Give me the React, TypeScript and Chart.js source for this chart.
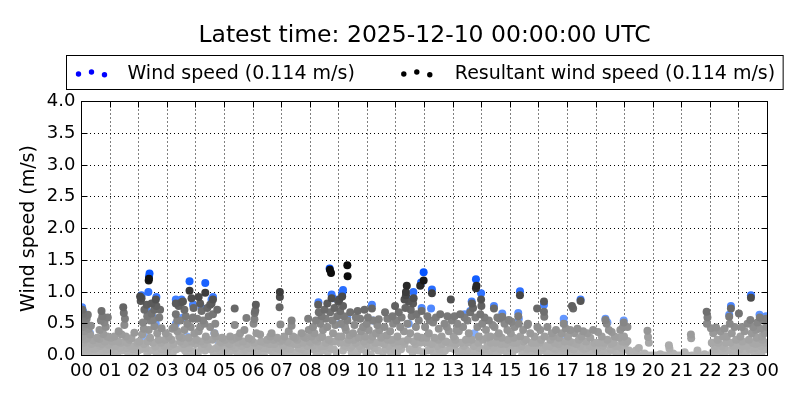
import React, { useEffect, useRef } from "react";
import { Chart, registerables } from "chart.js";

Chart.register(...registerables);

const FONT = "'DejaVu Sans', sans-serif";
const titleText = "Latest time: 2025-12-10 00:00:00 UTC";
const windLabel = "Wind speed (0.114 m/s)";
const resultantLabel = "Resultant wind speed (0.114 m/s)";
const yAxisTitle = "Wind speed (m/s)";
const hourTickLabels = ["00","01","02","03","04","05","06","07","08","09","10","11","12","13","14","15","16","17","18","19","20","21","22","23","00"];
const speedTickLabels = ["0.0","0.5","1.0","1.5","2.0","2.5","3.0","3.5","4.0"];

// [hour of day, speed m/s]
const resultantPoints: [number, number][] = [
  [0.03,0.72],[0.06,0.66],[0.12,0.62],[0.18,0.58],[0.08,0.55],[0.22,0.64],[0.15,0.5],[0.05,0.45],[0.25,0.42],[0.1,0.38],
  [0.3,0.33],[0.02,0.3],[0.2,0.27],[0.4,0.24],[0.08,0.2],[0.35,0.18],[0.15,0.14],[0.5,0.12],[0.27,0.08],[0.05,0.06],
  [0.6,0.05],[0.42,0.03],[0.7,0.7],[0.73,0.62],[0.68,0.55],[0.8,0.52],[0.85,0.45],[0.63,0.4],[0.76,0.34],[0.9,0.3],
  [0.55,0.28],[0.82,0.22],[0.95,0.17],[0.65,0.15],[0.88,0.1],[0.75,0.07],[0.98,0.03],[0.45,0.1],[0.33,0.47],[0.92,0.6],
  [1.05,0.1],[1.12,0.05],[1.18,0.15],[1.25,0.02],[1.3,0.38],[1.28,0.22],[1.35,0.12],[1.42,0.08],[1.46,0.76],[1.48,0.67],
  [1.52,0.58],[1.5,0.48],[1.55,0.3],[1.6,0.2],[1.62,0.05],[1.7,0.15],[1.75,0.27],[1.8,0.1],[1.85,0.36],[1.9,0.04],
  [1.95,0.2],[1.02,0.28],[1.4,0.33],
  [2.05,0.93],[2.07,0.86],[2.1,0.9],[2.35,1.18],[2.36,1.21],[2.6,0.88],[2.62,0.78],[2.2,0.72],[2.45,0.66],[2.3,0.62],
  [2.5,0.56],[2.72,0.6],[2.15,0.52],[2.55,0.46],[2.8,0.43],[2.35,0.4],[2.12,0.33],[2.65,0.35],[2.4,0.28],[2.02,0.22],
  [2.7,0.25],[2.5,0.2],[2.9,0.15],[2.25,0.12],[2.6,0.06],[2.88,0.03],[2.45,0.82],[2.55,0.72],[2.28,0.8],[2.18,0.42],
  [2.95,0.35],[2.8,0.1],[2.3,0.04],[2.75,0.72],[2.4,0.55],
  [3.05,0.3],[3.1,0.15],[3.15,0.25],[3.2,0.05],[3.25,0.45],[3.3,0.82],[3.3,0.65],[3.35,0.55],[3.4,0.78],[3.42,0.3],
  [3.45,0.55],[3.5,0.84],[3.55,0.85],[3.5,0.12],[3.6,0.72],[3.6,0.4],[3.65,0.62],[3.7,0.5],[3.7,0.2],[3.78,1.02],
  [3.8,0.02],[3.85,0.9],[3.88,0.58],[3.9,0.6],[3.95,0.35],[3.92,0.75],[3.75,0.28],[3.35,0.38],[3.18,0.42],[3.62,0.08],
  [3.98,0.18],[3.45,0.22],[3.82,0.45],
  [4.05,0.58],[4.1,0.92],[4.1,0.38],[4.15,0.82],[4.2,0.7],[4.2,0.12],[4.25,0.55],[4.3,0.5],[4.33,0.99],[4.35,0.3],
  [4.4,0.75],[4.4,0.25],[4.45,0.62],[4.5,0.8],[4.5,0.45],[4.55,0.82],[4.6,0.88],[4.6,0.65],[4.62,0.05],[4.65,0.35],
  [4.7,0.3],[4.75,0.72],[4.8,0.15],[4.85,0.22],[4.9,0.2],[4.95,0.02],[4.02,0.25],[4.28,0.18],[4.68,0.5],[4.52,0.1],
  [4.15,0.45],[4.85,0.08],
  [5.05,0.1],[5.1,0.2],[5.15,0.03],[5.25,0.15],[5.3,0.08],[5.36,0.74],[5.36,0.48],[5.4,0.28],[5.45,0.05],[5.5,0.3],
  [5.55,0.35],[5.6,0.15],[5.65,0.22],[5.7,0.4],[5.77,0.59],[5.8,0.05],[5.85,0.27],[5.9,0.12],[5.95,0.25],[5.2,0.3],
  [5.72,0.1],
  [6.02,0.5],[6.06,0.67],[6.1,0.8],[6.08,0.71],[6.05,0.57],[6.12,0.35],[6.2,0.15],[6.25,0.33],[6.3,0.05],[6.4,0.2],
  [6.5,0.25],[6.55,0.1],[6.6,0.3],[6.7,0.05],[6.75,0.18],[6.85,0.28],[6.9,0.1],[6.15,0.02],[6.35,0.12],[6.65,0.35],
  [6.95,0.22],
  [6.94,1.0],[6.94,0.92],[6.93,0.76],[6.96,0.49],[7.05,0.15],[7.1,0.3],[7.15,0.05],[7.2,0.22],[7.3,0.1],[7.35,0.55],
  [7.35,0.47],[7.4,0.3],[7.45,0.18],[7.5,0.05],[7.55,0.25],[7.6,0.12],[7.7,0.35],[7.75,0.2],[7.8,0.08],[7.85,0.28],
  [7.93,0.58],[7.95,0.4],[7.9,0.15],[7.65,0.02],[7.25,0.38],
  [8.02,0.2],[8.05,0.3],[8.1,0.45],[8.12,0.1],[8.15,0.35],[8.2,0.55],[8.25,0.22],[8.28,0.8],[8.3,0.68],[8.32,0.05],
  [8.35,0.5],[8.4,0.62],[8.42,0.3],[8.45,0.4],[8.5,0.72],[8.5,0.15],[8.55,0.58],[8.6,0.82],[8.6,0.45],[8.65,0.25],
  [8.69,1.35],[8.73,1.3],[8.7,0.68],[8.75,0.9],[8.78,0.55],[8.8,0.35],[8.82,0.1],[8.85,0.75],[8.88,0.48],[8.9,0.22],
  [8.95,0.62],[8.98,0.85],[8.22,0.02],[8.38,0.15],[8.62,0.05],
  [9.02,0.88],[9.05,0.7],[9.08,0.5],[9.1,0.3],[9.12,0.93],[9.15,0.78],[9.18,0.62],[9.2,0.15],[9.25,0.4],[9.3,1.42],
  [9.31,1.25],[9.3,0.55],[9.35,0.25],[9.4,0.68],[9.45,0.05],[9.5,0.35],[9.55,0.48],[9.6,0.2],[9.66,0.7],[9.7,0.28],
  [9.75,0.58],[9.8,0.1],[9.85,0.45],[9.9,0.72],[9.92,0.3],[9.95,0.18],[9.4,0.12],[9.6,0.6],[9.22,0.45],[9.78,0.38],
  [9.98,0.5],
  [10.02,0.6],[10.05,0.4],[10.1,0.25],[10.16,0.74],[10.2,0.55],[10.25,0.12],[10.3,0.35],[10.35,0.48],[10.4,0.57],[10.45,0.2],
  [10.5,0.3],[10.55,0.05],[10.6,0.45],[10.62,0.68],[10.7,0.58],[10.75,0.15],[10.8,0.38],[10.85,0.25],[10.9,0.5],[10.97,0.78],
  [10.95,0.1],[10.12,0.02],[10.68,0.32],[10.42,0.4],[10.88,0.62],
  [11.02,0.55],[11.05,0.3],[11.1,0.68],[11.12,0.15],[11.15,0.45],[11.2,0.6],[11.25,0.22],[11.3,0.88],[11.33,0.75],[11.35,1.0],
  [11.38,1.1],[11.35,0.95],[11.4,0.5],[11.45,0.85],[11.5,0.35],[11.52,0.72],[11.55,0.62],[11.6,0.82],[11.62,0.9],[11.65,0.1],
  [11.7,0.45],[11.75,0.3],[11.8,0.55],[11.85,0.2],[11.9,0.7],[11.85,1.1],[11.97,1.18],[11.95,0.05],[11.58,0.05],[11.28,0.38],
  [11.72,0.65],
  [12.02,0.45],[12.05,0.2],[12.1,0.62],[12.15,0.35],[12.2,0.1],[12.26,0.98],[12.3,0.52],[12.35,0.28],[12.4,0.6],[12.45,0.15],
  [12.5,0.42],[12.55,0.65],[12.6,0.3],[12.65,0.05],[12.7,0.5],[12.75,0.22],[12.8,0.62],[12.85,0.38],[12.92,0.88],[12.9,0.12],
  [12.95,0.55],[12.18,0.55],[12.42,0.02],[12.78,0.45],
  [13.02,0.3],[13.05,0.62],[13.1,0.18],[13.15,0.5],[13.2,0.38],[13.25,0.65],[13.3,0.08],[13.35,0.45],[13.4,0.6],[13.45,0.25],
  [13.5,0.55],[13.55,0.35],[13.6,0.68],[13.66,0.82],[13.7,0.75],[13.72,0.15],[13.8,1.06],[13.82,1.1],[13.78,0.6],[13.85,0.45],
  [13.9,0.3],[13.95,0.65],[13.98,0.88],[13.99,0.78],[13.6,0.05],[13.12,0.4],[13.92,0.12],[13.42,0.02],
  [14.02,0.5],[14.05,0.25],[14.1,0.6],[14.15,0.4],[14.2,0.15],[14.25,0.55],[14.3,0.3],[14.35,0.05],[14.43,0.74],[14.45,0.45],
  [14.5,0.2],[14.55,0.6],[14.6,0.35],[14.65,0.1],[14.72,0.61],[14.7,0.28],[14.8,0.5],[14.85,0.18],[14.9,0.4],[14.95,0.56],
  [14.62,0.58],[14.38,0.48],[14.88,0.05],[14.12,0.02],
  [15.02,0.35],[15.05,0.53],[15.1,0.2],[15.15,0.45],[15.2,0.1],[15.28,0.62],[15.3,0.5],[15.34,0.95],[15.35,0.3],[15.4,0.15],
  [15.45,0.4],[15.5,0.05],[15.55,0.25],[15.6,0.48],[15.65,0.12],[15.7,0.35],[15.75,0.2],[15.8,0.02],[15.85,0.3],[15.9,0.1],
  [15.94,0.74],[15.95,0.45],[15.62,0.5],
  [16.02,0.2],[16.05,0.4],[16.1,0.08],[16.18,0.85],[16.18,0.69],[16.19,0.61],[16.2,0.3],[16.25,0.15],[16.3,0.45],[16.35,0.05],
  [16.4,0.25],[16.45,0.35],[16.5,0.12],[16.55,0.2],[16.6,0.4],[16.65,0.05],[16.7,0.28],[16.75,0.15],[16.8,0.35],[16.87,0.5],
  [16.85,0.08],[16.9,0.22],[16.95,0.42],[16.5,0.3],
  [17.02,0.3],[17.05,0.12],[17.1,0.4],[17.16,0.78],[17.2,0.74],[17.2,0.2],[17.25,0.35],[17.3,0.05],[17.35,0.42],[17.4,0.25],
  [17.46,0.86],[17.45,0.15],[17.5,0.3],[17.55,0.38],[17.6,0.1],[17.65,0.22],[17.7,0.35],[17.75,0.05],[17.8,0.28],[17.85,0.15],
  [17.9,0.4],[17.95,0.2],
  [18.02,0.1],[18.07,0.37],[18.1,0.2],[18.15,0.05],[18.2,0.3],[18.25,0.15],[18.33,0.56],[18.37,0.5],[18.4,0.25],[18.45,0.4],
  [18.5,0.1],[18.55,0.37],[18.6,0.2],[18.65,0.3],[18.7,0.05],[18.75,0.15],[18.8,0.28],[18.85,0.4],[18.9,0.12],[18.97,0.52],
  [18.95,0.45],[18.98,0.3],[18.3,0.02],
  [19.05,0.2],[19.1,0.45],[19.1,0.23],[19.15,0.08],[19.2,0],[19.3,0],[19.35,0.05],[19.45,0],[19.5,0.12],[19.6,0],
  [19.7,0.03],[19.8,0.39],[19.82,0.29],[19.85,0.2],[19.83,0],[19.95,0],
  [20.05,0],[20.15,0],[20.25,0.02],[20.35,0],[20.45,0],[20.55,0.16],[20.57,0.11],[20.6,0],[20.7,0.03],[20.8,0],
  [20.9,0],
  [21.0,0],[21.1,0.05],[21.2,0],[21.32,0.33],[21.33,0.27],[21.35,0],[21.45,0],[21.55,0.08],[21.6,0],[21.7,0],
  [21.8,0.02],[21.87,0.69],[21.9,0.6],[21.88,0.5],[21.95,0],
  [22.02,0.43],[22.05,0.2],[22.1,0.35],[22.15,0.1],[22.2,0.44],[22.25,0.25],[22.3,0.05],[22.35,0.38],[22.4,0.15],[22.45,0.3],
  [22.5,0.42],[22.55,0.2],[22.6,0.08],[22.66,0.61],[22.68,0.5],[22.72,0.74],[22.75,0.35],[22.8,0.15],[22.85,0.45],[22.9,0.25],
  [22.95,0.05],[23.0,0.66],[22.12,0],[22.5,0],[22.78,0],
  [23.05,0.3],[23.1,0.45],[23.15,0.15],[23.2,0.38],[23.25,0.05],[23.3,0.5],[23.35,0.25],[23.42,0.91],[23.4,0.56],[23.45,0.35],
  [23.5,0.45],[23.55,0.12],[23.6,0.4],[23.62,0.28],[23.65,0.52],[23.7,0.2],[23.73,0.6],[23.75,0.42],[23.8,0.3],[23.85,0.55],
  [23.88,0.1],[23.9,0.35],[23.95,0.58],[23.97,0.45],[23.92,0.2],[23.25,0],[23.6,0.02],[23.8,0.05]
];

// calm, low readings forming the light band near zero
const resultantLowPoints: [number, number][] = [
  [0.12,0.25],[0.38,0.12],[0.55,0.2],[0.62,0.26],[0.72,0.18],[0.86,0.05],[0.28,0.02],[0.18,0.1],
  [1.08,0.22],[1.15,0.3],[1.22,0.08],[1.38,0.2],[1.58,0.12],[1.68,0.25],[1.78,0.02],[1.88,0.14],[1.98,0.08],
  [2.08,0.1],[2.18,0.18],[2.32,0.22],[2.42,0.08],[2.58,0.14],[2.68,0.02],[2.78,0.2],[2.92,0.25],[2.98,0.06],
  [3.02,0.1],[3.12,0.02],[3.22,0.18],[3.32,0.1],[3.52,0.28],[3.58,0.18],[3.68,0.05],[3.76,0.12],[3.86,0.22],[3.94,0.06],
  [4.08,0.05],[4.18,0.22],[4.32,0.08],[4.42,0.14],[4.58,0.25],[4.72,0.12],[4.82,0.04],[4.92,0.28],[4.98,0.12],
  [5.02,0.25],[5.18,0.18],[5.28,0.25],[5.38,0.12],[5.48,0.2],[5.58,0.02],[5.68,0.08],[5.78,0.18],[5.88,0.02],[5.98,0.12],
  [6.04,0.2],[6.18,0.08],[6.28,0.22],[6.38,0.02],[6.45,0.12],[6.58,0.18],[6.62,0.08],[6.72,0.25],[6.8,0.12],[6.92,0.02],
  [7.02,0.25],[7.08,0.08],[7.18,0.12],[7.28,0.2],[7.38,0.02],[7.48,0.28],[7.58,0.18],[7.68,0.1],[7.78,0.3],[7.88,0.05],[7.98,0.22],
  [8.08,0.15],[8.18,0.25],[8.28,0.12],[8.35,0.28],[8.45,0.08],[8.55,0.2],[8.68,0.12],[8.75,0.22],[8.92,0.05],[8.98,0.3],
  [9.05,0.2],[9.15,0.08],[9.28,0.2],[9.38,0.32],[9.48,0.15],[9.52,0.25],[9.65,0.05],[9.72,0.15],[9.88,0.22],[9.96,0.05],
  [10.08,0.15],[10.18,0.3],[10.28,0.2],[10.38,0.08],[10.48,0.28],[10.58,0.18],[10.65,0.1],[10.72,0.25],[10.82,0.05],[10.92,0.2],
  [11.05,0.05],[11.08,0.22],[11.18,0.1],[11.3,0.18],[11.42,0.25],[11.48,0.1],[11.62,0.22],[11.68,0.18],[11.78,0.08],[11.9,0.28],
  [12.08,0.28],[12.12,0.08],[12.25,0.18],[12.32,0.05],[12.48,0.25],[12.52,0.1],[12.62,0.18],[12.72,0.08],[12.82,0.2],[12.98,0.2],
  [13.05,0.1],[13.08,0.25],[13.18,0.05],[13.28,0.2],[13.38,0.15],[13.48,0.08],[13.52,0.2],[13.65,0.25],[13.75,0.05],[13.88,0.2],[13.97,0.05],
  [14.08,0.1],[14.18,0.28],[14.28,0.08],[14.32,0.2],[14.42,0.12],[14.52,0.3],[14.58,0.05],[14.68,0.18],[14.78,0.08],[14.92,0.25],[14.98,0.12],
  [15.08,0.05],[15.12,0.28],[15.22,0.2],[15.32,0.12],[15.42,0.02],[15.48,0.22],[15.58,0.1],[15.68,0.05],[15.78,0.12],[15.88,0.2],[15.98,0.05],
  [16.08,0.25],[16.15,0.12],[16.28,0.05],[16.38,0.15],[16.48,0.05],[16.58,0.1],[16.68,0.18],[16.72,0.02],[16.82,0.12],[16.92,0.05],[16.98,0.15],
  [17.08,0.22],[17.12,0.02],[17.22,0.1],[17.32,0.18],[17.42,0.05],[17.52,0.12],[17.62,0.02],[17.68,0.12],[17.78,0.15],[17.88,0.05],[17.98,0.1],
  [18.05,0.12],[18.12,0.02],[18.22,0.08],[18.28,0.2],[18.42,0.05],[18.52,0.18],[18.58,0.08],[18.68,0.15],[18.78,0.02],[18.88,0.05],[18.92,0.22],
  [19.02,0.1],[19.25,0.02],[19.4,0.08],
  [22.08,0.05],[22.18,0.15],[22.28,0.2],[22.38,0.08],[22.48,0.12],[22.58,0.3],[22.7,0.2],[22.82,0.05],[22.92,0.15],
  [23.02,0.1],[23.12,0.22],[23.18,0.05],[23.28,0.15],[23.38,0.1],[23.48,0.2],[23.52,0.05],[23.58,0.18],[23.68,0.08],[23.78,0.15],[23.82,0.25],[23.98,0.1]
];

const windPoints: [number, number][] = [
  [0.02,0.76],[0.05,0.7],[0.3,0.35],
  [2.34,1.0],[2.38,1.29],[2.36,1.24],[2.1,0.95],[2.62,0.92],[2.3,0.7],[2.5,0.6],[2.6,0.5],[2.2,0.3],
  [3.3,0.88],[3.5,0.88],[3.78,1.17],[3.9,0.8],[3.55,0.6],[3.3,0.5],[3.7,0.3],
  [4.33,1.14],[4.55,0.88],[4.6,0.92],[4.2,0.75],[4.65,0.35],[4.8,0.2],
  [8.29,0.84],[8.68,1.37],[8.75,0.96],[8.8,0.9],[9.15,1.03],[9.12,0.98],[9.0,0.88],[9.05,0.5],[9.3,0.6],
  [10.16,0.8],[10.2,0.55],
  [11.4,0.9],[11.61,1.0],[11.9,0.75],[11.97,1.31],[11.88,1.15],[12.26,1.04],[12.23,0.74],[11.45,0.5],
  [13.8,1.2],[13.98,0.98],[13.65,0.85],[13.6,0.7],[13.4,0.65],[13.75,0.35],
  [14.43,0.78],[14.72,0.66],
  [15.34,1.01],[15.28,0.67],[15.3,0.58],
  [16.18,0.8],[16.87,0.58],[16.88,0.5],[16.82,0.27],
  [17.46,0.88],
  [18.33,0.58],[18.4,0.52],[18.97,0.55],
  [22.72,0.78],[22.66,0.64],[23.42,0.95],[23.72,0.64],[23.95,0.62]
];

function greyFor(v: number): string {
  const g = Math.round(Math.max(12, Math.min(180, 182 - 60 * v - 62 * v * v)));
  return `rgb(${g},${g},${g})`;
}
function blueFor(v: number): string {
  const t = Math.max(0, Math.min(1, v / 1.35));
  const r = Math.round(175 - 175 * t);
  const g = Math.round(205 - 125 * t);
  const b = 255;
  return `rgb(${r},${g},${b})`;
}

const alignPx = (p: number) => Math.round(p + 0.5) - 0.5;

const decorPlugin = {
  id: "decor",
  afterDraw(chart: any) {
    const { ctx, chartArea } = chart;
    const { left, right, top, bottom } = chartArea;
    const xs = chart.scales.x;
    const ys = chart.scales.y;
    ctx.save();
    ctx.strokeStyle = "#000";
    ctx.lineWidth = 1;
    ctx.setLineDash([]);
    const T = 6;
    ctx.beginPath();
    xs.ticks.forEach((t: any) => {
      const px = alignPx(xs.getPixelForValue(t.value));
      ctx.moveTo(px, bottom); ctx.lineTo(px, bottom - T);
      ctx.moveTo(px, top); ctx.lineTo(px, top + T);
    });
    ys.ticks.forEach((t: any) => {
      const py = alignPx(ys.getPixelForValue(t.value));
      ctx.moveTo(left, py); ctx.lineTo(left + T, py);
      ctx.moveTo(right, py); ctx.lineTo(right - T, py);
    });
    ctx.stroke();
    ctx.strokeRect(alignPx(left), alignPx(top), alignPx(right) - alignPx(left), alignPx(bottom) - alignPx(top));

    const cx = (left + right) / 2;
    ctx.fillStyle = "#000";
    ctx.font = `23.5px ${FONT}`;
    ctx.textAlign = "center";
    ctx.textBaseline = "alphabetic";
    ctx.fillText(titleText, cx, 42);

    ctx.font = `19px ${FONT}`;
    const w1 = ctx.measureText(windLabel).width;
    const w2 = ctx.measureText(resultantLabel).width;
    const total = 61 + w1 + 100 + w2 + 8;
    const bx = Math.round(cx - total / 2) + 0.5;
    const by = 55.5;
    const bh = 34;
    ctx.fillStyle = "#fff";
    ctx.fillRect(bx, by, total, bh);
    ctx.strokeStyle = "#000";
    ctx.strokeRect(bx, by, total, bh);
    const my = by + bh / 2;
    const offs = [1.5, -0.5, 2.2];
    const drawDots = (x0: number, color: string) => {
      ctx.fillStyle = color;
      [0, 13, 26].forEach((dx, i) => {
        ctx.beginPath();
        ctx.arc(x0 + dx, my + offs[i], 2.7, 0, Math.PI * 2);
        ctx.fill();
      });
    };
    drawDots(bx + 12, "#0000ff");
    ctx.fillStyle = "#000";
    ctx.textAlign = "left";
    ctx.fillText(windLabel, bx + 61, 79);
    const x2 = bx + 61 + w1;
    drawDots(x2 + 49, "#000");
    ctx.fillStyle = "#000";
    ctx.fillText(resultantLabel, x2 + 100, 79);
    ctx.restore();
  },
};

export default function App() {
  const ref = useRef<HTMLCanvasElement | null>(null);
  useEffect(() => {
    document.body.style.margin = "0";
    const canvas = ref.current;
    if (!canvas) return;
    const toXY = (pts: [number, number][]) =>
      pts.map(([h, v]) => ({ x: h, y: v })).sort((a, b) => a.y - b.y);
    const chart = new Chart(canvas, {
      type: "scatter",
      data: {
        datasets: [
          {
            label: resultantLabel,
            data: toXY([...resultantLowPoints, ...resultantPoints]),
            order: 0,
            pointRadius: 4,
            pointHoverRadius: 4,
            borderWidth: 0,
            backgroundColor: (c: any) => greyFor(c.raw ? c.raw.y : 0),
            clip: 0,
          },
          {
            label: windLabel,
            data: toXY(windPoints),
            order: 1,
            pointRadius: 4,
            pointHoverRadius: 4,
            borderWidth: 0,
            backgroundColor: (c: any) => blueFor(c.raw ? c.raw.y : 0),
            clip: 0,
          },
        ],
      },
      options: {
        responsive: false,
        animation: false,
        events: [],
        layout: { padding: { top: 101.5, right: 32.5, bottom: 0, left: 0 } },
        plugins: {
          legend: { display: false },
          title: { display: false },
          tooltip: { enabled: false },
        },
        scales: {
          x: {
            type: "linear",
            min: 0,
            max: 24,
            afterFit: (s: any) => { s.height = 44.5; },
            afterBuildTicks: (s: any) => {
              s.ticks = hourTickLabels.map((_, i) => ({ value: i }));
            },
            ticks: {
              autoSkip: false,
              maxRotation: 0,
              padding: 5,
              color: "#000",
              font: { family: FONT, size: 18 },
              callback: (v: any) => hourTickLabels[Math.round(Number(v))] ?? "",
            },
            grid: { color: "#000", lineWidth: 1, drawTicks: false },
            border: { display: false, dash: [1, 3] },
          },
          y: {
            min: 0,
            max: 4,
            afterFit: (s: any) => { s.width = 81.5; },
            afterBuildTicks: (s: any) => {
              s.ticks = speedTickLabels.map((l) => ({ value: parseFloat(l) }));
            },
            ticks: {
              padding: 6,
              color: "#000",
              font: { family: FONT, size: 18 },
              callback: (v: any) => {
                const i = speedTickLabels.findIndex((l) => Math.abs(parseFloat(l) - Number(v)) < 1e-6);
                return i >= 0 ? speedTickLabels[i] : "";
              },
            },
            title: {
              display: true,
              text: yAxisTitle,
              color: "#000",
              font: { family: FONT, size: 19 },
              padding: { top: 18, bottom: 0 },
            },
            grid: { color: "#000", lineWidth: 1, drawTicks: false },
            border: { display: false, dash: [1, 3] },
          },
        },
      },
      plugins: [decorPlugin],
    } as any);
    return () => chart.destroy();
  }, []);
  return (
    <div style={{ width: 800, height: 400 }}>
      <canvas ref={ref} width={800} height={400} style={{ display: "block" }} />
    </div>
  );
}
